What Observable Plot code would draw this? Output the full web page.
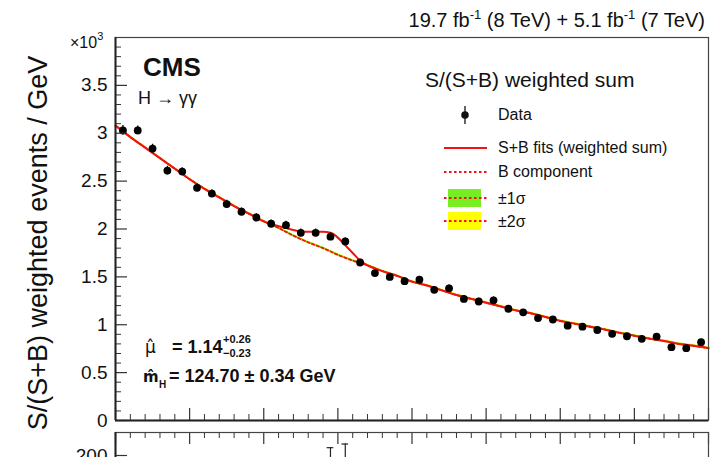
<!DOCTYPE html>
<html><head><meta charset="utf-8">
<script src="https://cdn.jsdelivr.net/npm/d3@7"></script>
<script src="https://cdn.jsdelivr.net/npm/@observablehq/plot@0.6"></script>
<style>
html,body{margin:0;padding:0;background:#fff;overflow:hidden;}
#wrap{position:relative;width:711px;height:457px;overflow:hidden;}
#wrap svg{display:block;}
</style></head><body><div id="wrap"></div>
<script>
// ---- data ----
const binMass = [101,103,105,107,109,111,113,115,117,119,121,123,125,127,129,131,133,135,137,139,
                 141,143,145,147,149,151,153,155,157,159,161,163,165,167,169,171,173,175,177,179];
const dataVal = [3.03,3.03,2.84,2.61,2.60,2.43,2.37,2.26,2.18,2.12,2.055,2.04,1.96,1.96,1.92,1.87,1.65,1.54,1.50,1.455,
                 1.47,1.365,1.38,1.27,1.243,1.255,1.167,1.13,1.07,1.055,0.99,0.98,0.945,0.905,0.88,0.853,0.877,0.766,0.755,0.818];
const dataErr = [0.05,0.045,0.045,0.045,0.04,0.04,0.04,0.04,0.04,0.04,0.04,0.04,0.04,0.04,0.04,0.035,0.035,0.035,0.035,0.035,
                 0.035,0.035,0.035,0.035,0.035,0.035,0.03,0.03,0.03,0.03,0.03,0.03,0.03,0.03,0.03,0.03,0.03,0.03,0.03,0.03];
const bkgMass = [100,102,104,106,108,110,112,114,116,118,120,122,124,126,128,130,132,134,136,138,
                 140,142,144,146,148,150,152,154,156,158,160,162,164,166,168,170,172,174,176,178,180];
const bkgVal  = [3.08,2.96,2.85,2.74,2.63,2.52,2.42,2.33,2.24,2.16,2.08,2.01,1.93,1.86,1.80,1.73,1.67,1.62,1.56,1.51,
                 1.45,1.41,1.36,1.31,1.27,1.23,1.19,1.15,1.12,1.08,1.04,1.01,0.98,0.95,0.915,0.885,0.855,0.83,0.80,0.78,0.755];
const sbMass = [100,102,104,106,108,110,112,114,116,118,120,121,122,123,124,125,126,127,128,129,130,131,132,133,134,136,138,
                140,142,144,146,148,150,152,154,156,158,160,162,164,166,168,170,172,174,176,178,180];
const sbVal  = [3.08,2.96,2.85,2.74,2.63,2.52,2.42,2.33,2.24,2.16,2.08,2.05,2.03,2.01,1.99,1.975,1.97,1.97,1.97,1.96,1.91,1.83,1.75,1.67,1.62,1.56,1.51,
                1.45,1.41,1.36,1.31,1.27,1.23,1.19,1.15,1.12,1.08,1.04,1.01,0.98,0.95,0.915,0.885,0.855,0.83,0.80,0.78,0.755];
const sigma1Half = 0.009;
const sigma2Half = 0.013;
const yMajorTicks = [0,0.5,1,1.5,2,2.5,3,3.5];
const yTickLabels = ["0","0.5","1","1.5","2","2.5","3","3.5"];
const yMinorTicks = [0.1,0.2,0.3,0.4,0.6,0.7,0.8,0.9,1.1,1.2,1.3,1.4,1.6,1.7,1.8,1.9,2.1,2.2,2.3,2.4,
                     2.6,2.7,2.8,2.9,3.1,3.2,3.3,3.4,3.6,3.7,3.8,3.9];
const xMajorTicks = [100,110,120,130,140,150,160,170,180];
const xMinorTicks = [102,104,106,108,112,114,116,118,122,124,126,128,132,134,136,138,142,144,146,148,
                     152,154,156,158,162,164,166,168,172,174,176,178];
const residMass = [129,131];
const residVal = [125,170];
const residErr = [92,55];
const lowerYTicks = [200];

// ---- layout ----
const W = 711, H1 = 430, H2 = 234;
const mL = 115, mR = 3, mT = 37, mB = 10;
const fw = W - mL - mR, fh = H1 - mT - mB, fh2 = H2 - 4;
const red = "#f01414";
const FONT = "Liberation Sans, Arial, Helvetica, sans-serif";

const bins = binMass.map((m, i) => ({m, v: dataVal[i], e: dataErr[i]}));
const bkg = bkgMass.map((m, i) => ({m, v: bkgVal[i]}));
const sb = sbMass.map((m, i) => ({m, v: sbVal[i]}));
const resid = residMass.map((m, i) => ({m, v: residVal[i], e: residErr[i]}));

const p1 = Plot.plot({
  width: W, height: H1, marginLeft: mL, marginRight: mR, marginTop: mT, marginBottom: mB,
  style: {fontFamily: FONT, background: "white", overflow: "visible", color: "black"},
  x: {domain: [100, 180], axis: null},
  y: {domain: [0, 4]},
  marks: [
    Plot.areaY(bkg, {x: "m", y1: d => d.v - sigma2Half, y2: d => d.v + sigma2Half, fill: "#ffff00", curve: "monotone-x"}),
    Plot.areaY(bkg, {x: "m", y1: d => d.v - sigma1Half, y2: d => d.v + sigma1Half, fill: "#77ee22", curve: "monotone-x"}),
    Plot.line(bkg, {x: "m", y: "v", stroke: red, strokeWidth: 1.8, strokeDasharray: "2.5,2.5", curve: "monotone-x"}),
    Plot.line(sb, {x: "m", y: "v", stroke: red, strokeWidth: 2, curve: "monotone-x"}),
    Plot.ruleX(bins, {x: "m", y1: d => d.v - d.e, y2: d => d.v + d.e, stroke: "black", strokeWidth: 1.3}),
    Plot.dot(bins, {x: "m", y: "v", r: 3.9, fill: "black", stroke: "none"}),
    Plot.ruleY(yMinorTicks, {y: d => d, insetRight: fw - 6, stroke: "#333", strokeWidth: 1}),
    Plot.ruleY(yMajorTicks, {y: d => d, insetRight: fw - 12, stroke: "#333", strokeWidth: 1.2}),
    Plot.ruleX(xMinorTicks, {x: d => d, insetTop: fh - 6, stroke: "#333", strokeWidth: 1}),
    Plot.ruleX(xMajorTicks, {x: d => d, insetTop: fh - 12, stroke: "#333", strokeWidth: 1.2}),
    Plot.axisY({ticks: yMajorTicks, tickSize: 0, tickPadding: 8, fontSize: 19, label: null,
                tickFormat: d => yTickLabels[yMajorTicks.indexOf(d)], fill: "#111"}),
    Plot.frame({stroke: "#444", strokeWidth: 1.2}),
    Plot.ruleX([100], {stroke: "#222", strokeWidth: 2}),
    Plot.ruleY([0], {stroke: "#222", strokeWidth: 2})
  ]
});

const p2 = Plot.plot({
  width: W, height: H2, marginLeft: mL, marginRight: mR, marginTop: 2, marginBottom: 2,
  style: {fontFamily: FONT, background: "white", color: "black"},
  x: {domain: [100, 180], axis: null},
  y: {domain: [-250, 250]},
  marks: [
    Plot.ruleX(resid, {x: "m", y1: d => d.v - d.e, y2: d => d.v + d.e, stroke: "#222", strokeWidth: 1.2}),
    Plot.ruleY(resid, {y: d => d.v + d.e, x1: d => d.m - 0.45, x2: d => d.m + 0.45, stroke: "#222", strokeWidth: 1.2}),
    Plot.ruleX(xMinorTicks, {x: d => d, insetBottom: fh2 - 6, stroke: "#333"}),
    Plot.ruleX(xMajorTicks, {x: d => d, insetBottom: fh2 - 12, stroke: "#333", strokeWidth: 1.2}),
    Plot.ruleY(lowerYTicks, {y: d => d, insetRight: fw - 12, stroke: "#333", strokeWidth: 1.2}),
    Plot.axisY({ticks: lowerYTicks, tickSize: 0, tickPadding: 8, fontSize: 19, label: null, tickFormat: d => String(d), fill: "#111"}),
    Plot.frame({stroke: "#444", strokeWidth: 1.2}),
    Plot.ruleX([100], {stroke: "#222", strokeWidth: 2})
  ]
});

const wrap = document.getElementById("wrap");
wrap.appendChild(p1);
wrap.appendChild(p2);

// ---- annotations ----
const svg = d3.select(p1);
const g = svg.append("g").attr("font-family", FONT).attr("fill", "#111").attr("text-anchor", "start");
function T(x, y, s, size, opts = {}) {
  const t = g.append("text").attr("x", x).attr("y", y).attr("font-size", size)
    .attr("text-anchor", opts.anchor || "start").text(s);
  if (opts.bold) t.attr("font-weight", "bold");
  if (opts.font) t.attr("font-family", opts.font);
  return t;
}
// title
const title = g.append("text").attr("x", 705).attr("y", 27).attr("text-anchor", "end").attr("font-size", 20);
title.append("tspan").text("19.7 fb");
title.append("tspan").attr("dy", -8).attr("font-size", 13).text("-1");
title.append("tspan").attr("dy", 8).text(" (8 TeV) + 5.1 fb");
title.append("tspan").attr("dy", -8).attr("font-size", 13).text("-1");
title.append("tspan").attr("dy", 8).text(" (7 TeV)");
// y label
g.append("text").attr("transform", "translate(47,243) rotate(-90)").attr("text-anchor", "middle")
  .attr("font-size", 27).text("S/(S+B) weighted events / GeV");
// x10^3
const e3 = g.append("text").attr("x", 70).attr("y", 48).attr("font-size", 16).attr("text-anchor", "start");
e3.append("tspan").text("×10");
e3.append("tspan").attr("dy", -8).attr("font-size", 11).text("3");
// CMS
T(143, 76, "CMS", 26, {bold: true});
T(138, 104, "H → γγ", 18);
// legend
T(425, 87, "S/(S+B) weighted sum", 21);
g.append("line").attr("x1", 465).attr("x2", 465).attr("y1", 106).attr("y2", 124).attr("stroke", "#111").attr("stroke-width", 1.3);
g.append("circle").attr("cx", 465).attr("cy", 115).attr("r", 3.8).attr("fill", "#111");
T(498, 120, "Data", 16);
g.append("line").attr("x1", 444).attr("x2", 487).attr("y1", 148).attr("y2", 148).attr("stroke", red).attr("stroke-width", 2);
T(498, 153, "S+B fits (weighted sum)", 16);
g.append("line").attr("x1", 444).attr("x2", 487).attr("y1", 172).attr("y2", 172).attr("stroke", red).attr("stroke-width", 2).attr("stroke-dasharray", "2.5,2.5");
T(498, 177, "B component", 16);
g.append("rect").attr("x", 448).attr("y", 189).attr("width", 33).attr("height", 18).attr("fill", "#77ee22");
g.append("line").attr("x1", 444).attr("x2", 487).attr("y1", 198).attr("y2", 198).attr("stroke", red).attr("stroke-width", 2).attr("stroke-dasharray", "2.5,2.5");
T(498, 204, "±1σ", 16);
g.append("rect").attr("x", 448).attr("y", 212).attr("width", 33).attr("height", 18).attr("fill", "#ffff00");
g.append("line").attr("x1", 444).attr("x2", 487).attr("y1", 221).attr("y2", 221).attr("stroke", red).attr("stroke-width", 2).attr("stroke-dasharray", "2.5,2.5");
T(498, 227, "±2σ", 16);
// fit results
T(145, 353, "\u03BC\u0302", 17, {font: "DejaVu Sans"});
T(172, 353, "= 1.14", 18, {bold: true});
T(223, 343, "+0.26", 11, {bold: true});
T(223, 357, "−0.23", 11, {bold: true});
T(143, 382, "m\u0302", 15, {bold: true, font: "DejaVu Sans"});
T(159, 388, "H", 10, {bold: true});
T(169, 382, "= 124.70 ± 0.34 GeV", 18, {bold: true});
</script></body></html>
